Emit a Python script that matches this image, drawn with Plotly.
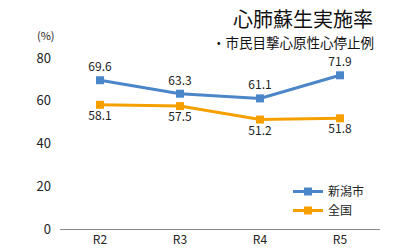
import plotly.graph_objects as go

categories = ["R2", "R3", "R4", "R5"]
niigata = [69.6, 63.3, 61.1, 71.9]
national = [58.1, 57.5, 51.2, 51.8]
y_ticks = [0, 20, 40, 60, 80]

blue = "#4a86c8"
orange = "#f5a000"
font = "Noto Sans CJK JP"

fig = go.Figure()
fig.add_trace(go.Scatter(
    x=categories, y=niigata, name="新潟市", mode="lines+markers+text",
    line=dict(color=blue, width=3), marker=dict(symbol="square", size=8, color=blue),
    text=[f"{v:.1f}" for v in niigata], textposition="top center",
    textfont=dict(size=12, color="#222"), cliponaxis=False))
fig.add_trace(go.Scatter(
    x=categories, y=national, name="全国", mode="lines+markers+text",
    line=dict(color=orange, width=3), marker=dict(symbol="square", size=8, color=orange),
    text=[f"{v:.1f}" for v in national], textposition="bottom center",
    textfont=dict(size=12, color="#222"), cliponaxis=False))

L, R, T, B = 60, 16, 58, 21
plot_w = 396 - L - R
plot_h = 250 - T - B


def px(x):
    return (x - L) / plot_w


def py(y):
    return (250 - B - y) / plot_h


fig.update_layout(
    width=396, height=250,
    margin=dict(l=L, r=R, t=T, b=B, autoexpand=False),
    plot_bgcolor="white", paper_bgcolor="white",
    font=dict(family=font, size=12, color="#222"),
    showlegend=True,
    legend=dict(x=px(288), y=py(177), xanchor="left", yanchor="top",
                bgcolor="rgba(0,0,0,0)", font=dict(size=12), itemwidth=30,
                tracegroupgap=2),
    xaxis=dict(type="category", range=[-0.5, 3.5], showline=True, automargin=False,
               linecolor="#888", linewidth=1, showgrid=False, ticks="",
               tickfont=dict(size=12)),
    yaxis=dict(range=[0, 80], tickvals=y_ticks, showgrid=False, zeroline=False,
               automargin=False,
               showline=False, ticks="", tickfont=dict(size=13), ticklabelstandoff=8),
)

fig.add_annotation(text="心肺蘇生実施率", x=px(375), y=py(18), xref="paper", yref="paper",
                   xanchor="right", yanchor="middle", showarrow=False,
                   font=dict(size=20, color="#111"))
fig.add_annotation(text="・市民目撃心原性心停止例", x=px(376), y=py(42), xref="paper", yref="paper",
                   xanchor="right", yanchor="middle", showarrow=False,
                   font=dict(size=13.5, color="#111"))
fig.add_annotation(text="(%)", x=px(46), y=py(35), xref="paper", yref="paper",
                   xanchor="center", yanchor="middle", showarrow=False,
                   font=dict(size=11))

fig.write_html("out.html")
